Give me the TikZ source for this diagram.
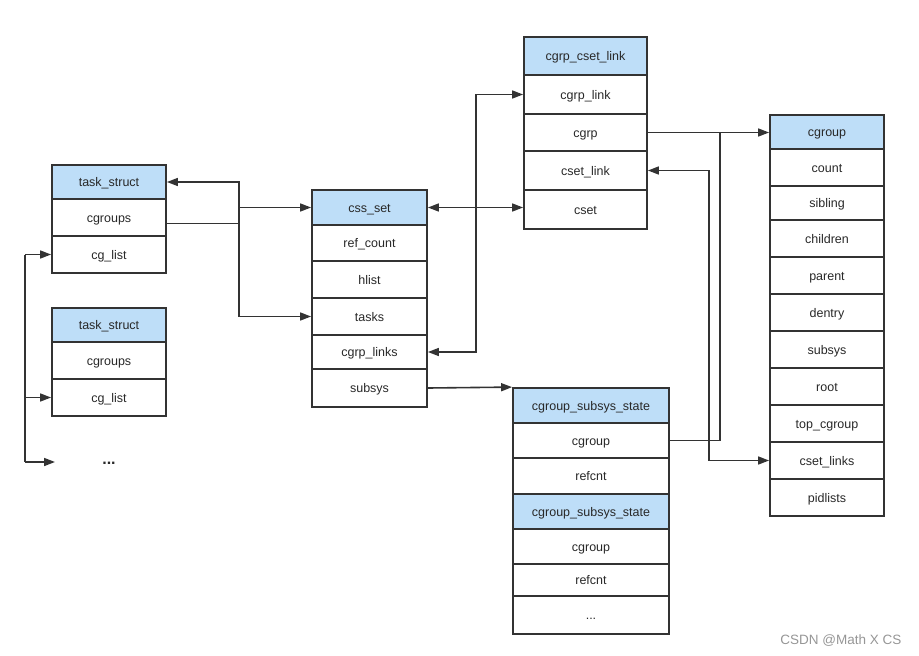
\documentclass[tikz,border=0pt]{standalone}
\usepackage{fontspec}
\setmainfont{Liberation Sans}
\usetikzlibrary{arrows.meta}
\definecolor{hdr}{RGB}{190,222,248}
\definecolor{linec}{RGB}{51,51,51}
\definecolor{txt}{RGB}{40,40,40}
\begin{document}
\begin{tikzpicture}[x=1pt,y=-1pt,
  cell/.style={draw=linec, line width=1.8pt, inner sep=0pt, text=txt,
    font=\fontsize{12.5}{14}\selectfont, text height=9.5pt, text depth=0pt, minimum width=#1},
  hcell/.style={cell=#1, fill=hdr},
  conn/.style={draw=linec, line width=1.6pt, -{Triangle[length=11pt,width=8pt]}},
  biconn/.style={draw=linec, line width=1.6pt, {Triangle[length=11pt,width=8pt]}-{Triangle[length=11pt,width=8pt]}},
  plain/.style={draw=linec, line width=1.6pt}]
\useasboundingbox (0,0) rectangle (919,656);

% task_struct 1
\node[hcell=114pt, minimum height=34pt] (ts1h) at (109,182) {task\_struct};
\node[cell=114pt, minimum height=37pt] (ts1cg) at (109,217.5) {cgroups};
\node[cell=114pt, minimum height=37pt] (ts1cl) at (109,254.5) {cg\_list};
% task_struct 2
\node[hcell=114pt, minimum height=34pt] (ts2h) at (109,325) {task\_struct};
\node[cell=114pt, minimum height=37pt] (ts2cg) at (109,360.5) {cgroups};
\node[cell=114pt, minimum height=37pt] (ts2cl) at (109,397.5) {cg\_list};
\node[text=txt, font=\fontsize{16}{18}\bfseries] (dots) at (109,463) {...};
\coordinate (dotsin) at (55,462);

% css_set
\node[hcell=115pt, minimum height=35pt] (cssh) at (369.5,207.5) {css\_set};
\node[cell=115pt, minimum height=36pt] (refc) at (369.5,243) {ref\_count};
\node[cell=115pt, minimum height=37pt] (hlist) at (369.5,279.5) {hlist};
\node[cell=115pt, minimum height=37pt] (tasks) at (369.5,316.5) {tasks};
\node[cell=115pt, minimum height=34pt] (cgl) at (369.5,352) {cgrp\_links};
\node[cell=115pt, minimum height=38pt] (subsys) at (369.5,388) {subsys};

% cgrp_cset_link
\node[hcell=123pt, minimum height=38pt] (clh) at (585.5,56) {cgrp\_cset\_link};
\node[cell=123pt, minimum height=39pt] (cgrplink) at (585.5,94.5) {cgrp\_link};
\node[cell=123pt, minimum height=37pt] (cgrp) at (585.5,132.5) {cgrp};
\node[cell=123pt, minimum height=39pt] (csetlink) at (585.5,170.5) {cset\_link};
\node[cell=123pt, minimum height=39pt] (cset) at (585.5,209.5) {cset};

% cgroup
\node[hcell=114pt, minimum height=34pt] (cgh) at (827,132) {cgroup};
\node[cell=114pt, minimum height=37pt] (count) at (827,167.5) {count};
\node[cell=114pt, minimum height=34pt] (sibling) at (827,203) {sibling};
\node[cell=114pt, minimum height=37pt] (children) at (827,238.5) {children};
\node[cell=114pt, minimum height=37pt] (parent) at (827,275.5) {parent};
\node[cell=114pt, minimum height=37pt] (dentry) at (827,312.5) {dentry};
\node[cell=114pt, minimum height=37pt] (cgsubsys) at (827,349.5) {subsys};
\node[cell=114pt, minimum height=37pt] (root) at (827,386.5) {root};
\node[cell=114pt, minimum height=37pt] (topcg) at (827,423.5) {top\_cgroup};
\node[cell=114pt, minimum height=37pt] (csetlinks) at (827,460.5) {cset\_links};
\node[cell=114pt, minimum height=37pt] (pidlists) at (827,497.5) {pidlists};

% cgroup_subsys_state
\node[hcell=156pt, minimum height=35pt] (s1h) at (591,405.5) {cgroup\_subsys\_state};
\node[cell=156pt, minimum height=35pt] (s1cg) at (591,440.5) {cgroup};
\node[cell=156pt, minimum height=36pt] (s1rc) at (591,476) {refcnt};
\node[hcell=156pt, minimum height=35pt] (s2h) at (591,511.5) {cgroup\_subsys\_state};
\node[cell=156pt, minimum height=35pt] (s2cg) at (591,546.5) {cgroup};
\node[cell=156pt, minimum height=32pt] (s2rc) at (591,580) {refcnt};
\node[cell=156pt, minimum height=38pt] (sdots) at (591,615) {...};

% watermark
\node[text={rgb,255:red,150;green,150;blue,150}, font=\fontsize{13.5}{15}\selectfont, anchor=east] (wm) at (905,641) {CSDN @Math X CS};

% routing columns
\coordinate (c0) at (25,0);
\coordinate (c1) at (239,0);
\coordinate (c2) at (476,0);
\coordinate (c3) at (720,0);
\coordinate (c4) at (709,0);

% connectors
\draw[plain] (ts1cl.west -| c0) -- (dotsin -| c0);
\draw[conn] (ts1cl.west -| c0) -- (ts1cl.west);
\draw[conn] (ts2cl.west -| c0) -- (ts2cl.west);
\draw[conn] (dotsin -| c0) -- (dotsin);

\draw[conn] ([yshift=-6pt]ts1cg.east) -- ([yshift=-6pt]ts1cg.east -| c1) |- (cssh.west);
\draw[biconn] (ts1h.east) -| (tasks.west -| c1) -- (tasks.west);

\draw[biconn] (cgl.east) -| (cgrplink.west -| c2) -- (cgrplink.west);
\draw[biconn] (cssh.east) -- (cssh.east -| cset.west);

\draw[conn] (cgrp.east) -- (cgrp.east -| cgh.west);
\draw[plain] (s1cg.east) -| (cgrp.east -| c3);
\draw[biconn] (csetlink.east) -| (csetlinks.west -| c4) -- (csetlinks.west);

\draw[conn] (subsys.east) -- (s1h.north west);
\end{tikzpicture}
\end{document}
